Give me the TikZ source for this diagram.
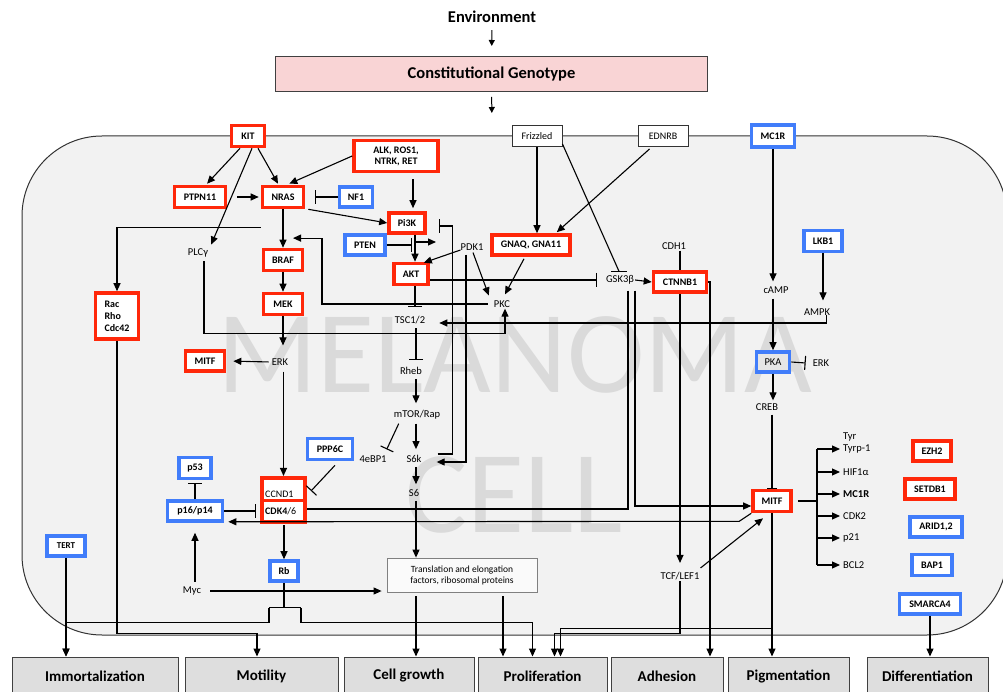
\documentclass[tikz,border=0pt]{standalone}
\usepackage{fontspec}
\setmainfont{Carlito}
\usetikzlibrary{arrows.meta,calc}
\pgfdeclarelayer{bg}
\pgfsetlayers{bg,main}
\definecolor{cellfill}{HTML}{F2F2F2}
\definecolor{mred}{RGB}{255,40,10}
\definecolor{mblue}{RGB}{65,125,250}
\definecolor{pinkfill}{RGB}{249,212,213}
\definecolor{outfill}{HTML}{DEDEDE}
\definecolor{wmcol}{HTML}{DADADA}
\definecolor{pkafill}{HTML}{E6E6E6}
\begin{document}
\begin{tikzpicture}[x=1pt,y=-1pt,
  sz/.style 2 args={minimum width=#1pt, minimum height=#2pt},
  rbox/.style={draw=mred, line width=3.6pt, fill=white, inner sep=0pt, font=\bfseries\fontsize{10}{11}\selectfont},
  bbox/.style={draw=mblue, line width=3.6pt, fill=white, inner sep=0pt, font=\bfseries\fontsize{10}{11}\selectfont},
  wbox/.style={draw=black!80, line width=0.9pt, fill=white, inner sep=0pt, font=\fontsize{10}{11}\selectfont},
  lab/.style={inner sep=1pt, font=\fontsize{10.5}{12}\selectfont},
  outbox/.style={draw=black!75, line width=1pt, fill=outfill, inner sep=0pt, minimum height=38pt, font=\bfseries\fontsize{15}{18}\selectfont},
  wmark/.style={text=wmcol, inner sep=0pt, font=\fontsize{117}{117}\selectfont},
  con/.style={line width=1.1pt, -{Triangle[length=8pt,width=7pt]}},
  sarr/.style={line width=1pt, -{Triangle[length=6pt,width=6pt]}},
  inh/.style={line width=1.1pt, -{Bar[width=14pt,line width=1.1pt]}},
  ln/.style={line width=1.1pt},
]
\useasboundingbox (0,0) rectangle (1003,692);
\clip (0,0) rectangle (1003,692);

\begin{pgfonlayer}{bg}
\draw[fill=cellfill, draw=black!80, line width=1pt, rounded corners=80pt] (22,136) rectangle (1007,635);
\node[wmark] (wma) at (515,355) {MELANOMA};
\node[wmark] (wmb) at (514,495) {CELL};
\end{pgfonlayer}

% top
\node[inner sep=1pt, font=\bfseries\fontsize{16.5}{18}\selectfont] (env) at (492,17) {Environment};
\node[draw=black!75, line width=1pt, fill=pinkfill, inner sep=0pt, sz={432}{35}, font=\bfseries\fontsize{16.5}{18}\selectfont] (geno) at (491.5,74) {Constitutional Genotype};
\coordinate (memb) at (492,136);

% nodes
\node[rbox, sz={33}{21}] (kit) at (248,136) {KIT};
\node[rbox, sz={84}{31}, align=center] (alk) at (396,156) {ALK, ROS1,\\NTRK, RET};
\node[wbox, sz={50}{21}] (friz) at (537,136) {Frizzled};
\node[wbox, sz={50}{21}] (ednrb) at (663,136) {EDNRB};
\node[bbox, sz={43}{22}] (mc1r) at (773,136) {MC1R};
\node[rbox, sz={51}{21}] (ptpn) at (200,197) {PTPN11};
\node[rbox, sz={41}{21}] (nras) at (283,197) {NRAS};
\node[bbox, sz={33}{20}] (nf1) at (356,197) {NF1};
\node[rbox, sz={36}{20}] (pi3k) at (407,223) {Pi3K};
\node[bbox, sz={40}{20}] (pten) at (365,245) {PTEN};
\node[lab] (pdk1) at (472,247) {PDK1};
\node[rbox, sz={78}{20}] (gnaq) at (531,245) {GNAQ, GNA11};
\node[rbox, sz={34}{21}] (akt) at (411,274) {AKT};
\node[lab] (gsk) at (620,280) {GSK3β};
\node[lab] (cdh1) at (674,246) {CDH1};
\node[rbox, sz={53}{20}] (ctnnb1) at (680,282) {CTNNB1};
\node[rbox, sz={39}{21}] (braf) at (283,260) {BRAF};
\node[rbox, sz={39}{21}] (mek) at (283,304) {MEK};
\node[lab] (plc) at (198,253) {PLCγ};
\node[lab] (pkc) at (502,304) {PKC};
\node[lab] (tsc) at (410,320) {TSC1/2};
\node[lab] (rheb) at (411,371) {Rheb};
\node[lab] (mtor) at (417,415) {mTOR/Rap};
\node[lab] (ebp) at (373,459) {4eBP1};
\node[lab] (s6k) at (414,459) {S6k};
\node[lab] (s6) at (414,493) {S6};
\node[rbox, sz={43}{46}, align=left, font=\bfseries\fontsize{10}{12}\selectfont] (rac) at (117,316) {Rac\\Rho\\Cdc42};
\node[rbox, sz={39}{20}] (mitfL) at (205,361) {MITF};
\node[lab] (erk) at (280,362) {ERK};
\node[bbox, sz={38}{21}] (lkb1) at (823,241) {LKB1};
\node[lab] (camp) at (776,290) {cAMP};
\node[lab] (ampk) at (817,312) {AMPK};
\node[bbox, sz={33}{20}, fill=pkafill, font=\fontsize{10.5}{12}\selectfont] (pka) at (773,362) {PKA};
\node[lab] (erk2) at (821,363) {ERK};
\node[lab] (creb) at (767,407) {CREB};
\node[rbox, sz={38}{21}] (mitfR) at (772,501) {MITF};
\node[lab, anchor=west] (tyr) at (842,437) {Tyr};
\node[lab, anchor=west] (tyrp) at (842,449) {Tyrp-1};
\node[lab, anchor=west] (hif) at (842,472) {HIF1α};
\node[lab, anchor=west, font=\bfseries\fontsize{10.5}{12}\selectfont] (mc1rt) at (842,494) {MC1R};
\node[lab, anchor=west] (cdk2) at (842,516) {CDK2};
\node[lab, anchor=west] (p21) at (842,538) {p21};
\node[lab, anchor=west] (bcl2) at (842,565) {BCL2};
\coordinate (brx) at (817,0);
\node[rbox, sz={38}{20}] (ezh2) at (932,451) {EZH2};
\node[rbox, sz={50}{20}] (setdb1) at (930,489) {SETDB1};
\node[bbox, sz={52}{20}] (arid) at (936,527) {ARID1,2};
\node[bbox, sz={40}{21}] (bap1) at (932,565) {BAP1};
\node[bbox, sz={61}{20}] (smarca) at (930,604) {SMARCA4};
\node[bbox, sz={32}{21}] (p53) at (195,468) {p53};
\node[bbox, sz={55}{20}] (p16) at (195,511) {p16/p14};
\node[bbox, sz={45}{21}] (ppp6c) at (330,449) {PPP6C};
\node[rbox, sz={43.5}{44.5}] (cyc) at (283.5,500) {};
\draw[mred, line width=3pt] ($(cyc.west)+(2,0)$) -- ($(cyc.east)+(-2,0)$);
\node[lab, anchor=base west, font=\fontsize{10}{12}\selectfont] (ccnd1) at (264,497) {CCND1};
\node[lab, anchor=base west, font=\fontsize{10}{12}\selectfont] (cdk46) at (264,514) {\textbf{CDK4}/6};
\node[bbox, sz={28}{20}] (rb) at (284,571) {Rb};
\node[lab] (myc) at (192,591) {Myc};
\node[bbox, sz={38}{20}, font=\bfseries\fontsize{9}{11}\selectfont] (tert) at (66,546) {TERT};
\node[draw=black!50, line width=0.8pt, fill=white!60!cellfill, inner sep=0pt, sz={150}{34}, align=center, font=\fontsize{9.5}{11}\selectfont] (trans) at (462,575) {Translation and elongation\\factors, ribosomal proteins};
\node[lab] (tcf) at (680,576) {TCF/LEF1};

% outcomes
\node[outbox, minimum width=166pt] (imm) at (95,676) {Immortalization};
\node[outbox, minimum width=153pt] (mot) at (261.5,676) {Motility};
\node[outbox, minimum width=130pt] (cg) at (409,676) {Cell growth};
\node[outbox, minimum width=129pt] (prolif) at (542.5,676) {Proliferation};
\node[outbox, minimum width=112pt] (adh) at (667,676) {Adhesion};
\node[outbox, minimum width=121pt] (pigm) at (788.5,676) {Pigmentation};
\node[outbox, minimum width=121pt] (diff) at (927.5,676) {Differentiation};

% connectors top
\draw[sarr, shorten <=6pt, shorten >=10pt] (env) -- (geno);
\draw[sarr, shorten <=5pt, shorten >=23pt] (geno) -- (memb);

% KIT etc
\draw[con] ($(kit.south)+(-8,0)$) -- ($(ptpn.north)+(7,-1)$);
\draw[con] ($(kit.south)+(4,0)$) -- ($(plc.north east)+(2,-3)$);
\draw[con] ($(kit.south)+(10,0)$) -- ($(nras.north)+(-5,-1)$);
\draw[con] (alk.west) -- ($(nras.north east)+(-16,-1)$);
\draw[con, shorten <=6pt] ($(alk.south)+(17,0)$) -- ($(pi3k.north)+(6,-3)$);
\draw[con] ($(ptpn.east)+(10,0)$) -- ($(nras.west)+(-2,0)$);
\draw[inh] (nf1.west) -- ($(nras.east)+(10,0)$);
\draw[con] ($(nras.south east)+(3,0)$) -- (pi3k.west);
\draw[con] (nras) -- (braf);
\draw[con] ($(nras.south west)+(0,18)$) -| (rac.north);
\draw[con] (braf) -- (mek);
\draw[con, shorten >=12pt] (mek.south) -- (mek.south |- erk.north);
\draw[con, shorten <=2pt, shorten >=7pt] (erk.west) -- (mitfL.east);
\draw[con, shorten <=5pt] (erk.south -| cyc.north) -- (cyc.north);
\coordinate (nbmid) at ($(nras.south)!0.75!(braf.north)$);
\draw[con, shorten <=5pt, shorten >=10pt] (pkc.west) -| ($(nbmid)+(39,0)$) -- (nbmid);
\draw[con] ($(plc.south)+(6,3)$) |- ($(pkc.south)+(3,25)$) -- ($(pkc.south)+(3,0)$);

% PI3K / AKT
\coordinate (pa) at ($(pi3k.south)+(8,0)$);
\draw[con] (pa) -- (pa |- akt.north);
\draw[inh, shorten >=3pt] (pten.east) -- (pten.east -| pa);
\draw[con] ($(pa |- pten.east)+(1,-3)$) -- ++(20,0);
\draw[con] ($(pdk1.west)+(1,3)$) -- ($(akt.north east)+(-6,1)$);
\draw[con] ($(pdk1.south)+(1,1)$) -- ($(pkc.north west)+(-4,-4)$);
\draw[con] ($(gnaq.south)+(-7,2)$) -- ($(pkc.north)+(3,-5)$);
\draw[con] (friz.south) -- (friz.south |- gnaq.north);
\draw[con] ($(ednrb.south west)+(12,2)$) -- ($(gnaq.north east)+(-15,-1)$);
\draw[ln] ($(friz.south east)+(0,-3)$) -- ($(gsk.north)+(-1,-3)$) coordinate (fg);
\draw[ln] ($(fg)+(-8,0)$) -- ($(fg)+(8,0)$);
\draw[inh] (akt.east |- gsk.west) -- ($(gsk.west)+(-8,0)$);
\draw[con] (gsk.east) -- (ctnnb1.west);
\draw[ln] (cdh1.south -| ctnnb1.north) -- (ctnnb1.north);

% mTOR column
\coordinate (col) at (416,0);
\draw[inh] ($(akt.south)+(4,0)$) -- ($(akt.south)+(4,21)$);
\draw[inh, shorten <=3pt, shorten >=6pt] (tsc.south -| col) -- (rheb.north -| col);
\draw[con, shorten <=3pt, shorten >=6pt] (rheb.south -| col) -- (mtor.north -| col);
\draw[inh] ($(mtor.south west)+(6,3)$) -- ($(ebp.north east)+(-1,-5)$);
\draw[con, shorten <=3pt, shorten >=5pt] (mtor.south -| col) -- (s6k.north -| col);
\draw[inh] ($(s6k.east)+(15,-5)$) -- ($(s6k.east)+(30,-5)$) |- ($(pi3k.east)+(12,3)$);
\draw[con] ($(pdk1.south)+(-6,3)$) |- ($(s6k.east)+(14,3)$);
\draw[con, shorten <=3pt, shorten >=4pt] (s6k.south -| col) -- (s6.north -| col);
\draw[con, shorten <=3pt] (s6.south -| col) -- (trans.north -| col);

% right side
\draw[con, shorten >=7pt] (lkb1.south) -- (lkb1.south |- ampk.north);
\draw[con] ($(ampk.south east)+(-5,-2)$) |- ($(tsc.east)+(13,3)$);
\draw[con, shorten >=4pt] (mc1r.south) -- (mc1r.south |- camp.north);
\draw[con, shorten <=4pt] (camp.south -| pka.north) -- (pka.north);
\draw[inh] (pka.east) -- ($(erk2.west)+(-6,0)$);
\draw[con, shorten >=2pt] (pka.south) -- (pka.south |- creb.north);
\draw[line width=1.1pt, -{Bar[width=10pt,line width=1.1pt]}, shorten <=3pt] (creb.south -| mitfR.north) -- (mitfR.north);
\draw[ln] ($(mitfR.east)+(5,0)$) -- (mitfR.east -| brx);
\draw[ln] (tyrp.west -| brx) -- (bcl2.west -| brx);
\foreach \t in {tyrp,hif,mc1rt,cdk2,p21,bcl2} \draw[con, shorten >=2pt] (\t.west -| brx) -- (\t.west);
\draw[con] (mitfR.south) -- (mitfR.south |- pigm.north);
\draw[con] ($(mitfR.south)+(0,115)$) -| ($(prolif.north)+(18,0)$);
\draw[con, shorten >=8pt] (ctnnb1) -- (tcf);
\draw[con] (tcf.south) -- ($(tcf.south)+(0,52)$) -| ($(prolif.north)+(12,0)$);
\draw[con] ($(tcf.north east)+(0,-3)$) -- ($(mitfR.south)+(-9,5)$);
\draw[con] (ctnnb1.east) -| ($(adh.north)+(43,0)$);
\draw[con, shorten <=5pt] ($(gsk.south)+(15,0)$) |- ($(mitfR.west)+(0,5)$);
\draw[ln, shorten <=5pt] ($(gsk.south)+(8,0)$) |- ($(cyc.east)+(0,9)$);
\draw[con] (mitfR.south west) -- ($(mitfR.south west)+(-12,8)$) -- ($(p16.south east)+(4,-1)$);

% cell cycle
\draw[inh] (p16.east) -- ($(cyc.west |- p16.east)+(-4,0)$);
\draw[inh] (p16.north) -- ($(p53.south)+(0,3)$);
\draw[inh] ($(ppp6c.south)+(5,4)$) -- ($(cyc.north east)+(4,15)$);
\draw[con, shorten <=4pt, shorten >=10pt] (myc.north -| p16.south) -- (p16.south);
\draw[con, shorten <=8pt, shorten >=5pt] (myc.east) -- (myc.east -| trans.west);
\draw[con, shorten <=1pt] (cyc.south -| rb.north) -- (rb.north);
\draw[ln] (rb.south) -- ++(0,25) coordinate (rbs);
\draw[ln] ($(rbs)+(-15,0)$) -- ($(rbs)+(17,0)$);
\draw[con] ($(rbs)+(-15,0)$) -- ($(rbs)+(-15,15)$) -| (tert.south |- imm.north);
\draw[con] ($(rbs)+(17,0)$) -- ($(rbs)+(17,15)$) -| ($(prolif.north)+(-10,0)$);
\draw[con] (tert.south) -- (tert.south |- imm.north);
\draw[con] (rac.south) -- ($(rac.south)+(0,293)$) -| ($(mot.north)+(-4.5,0)$);
\coordinate (t1) at ($(trans.south)+(-46,0)$);
\coordinate (t2) at ($(trans.south)+(41,0)$);
\draw[con, shorten <=4pt] (t1) -- (t1 |- cg.north);
\draw[con, shorten <=4pt] (t2) -- (t2 |- prolif.north);
\draw[con] (smarca.south) -- (smarca.south |- diff.north);
\end{tikzpicture}
\end{document}
